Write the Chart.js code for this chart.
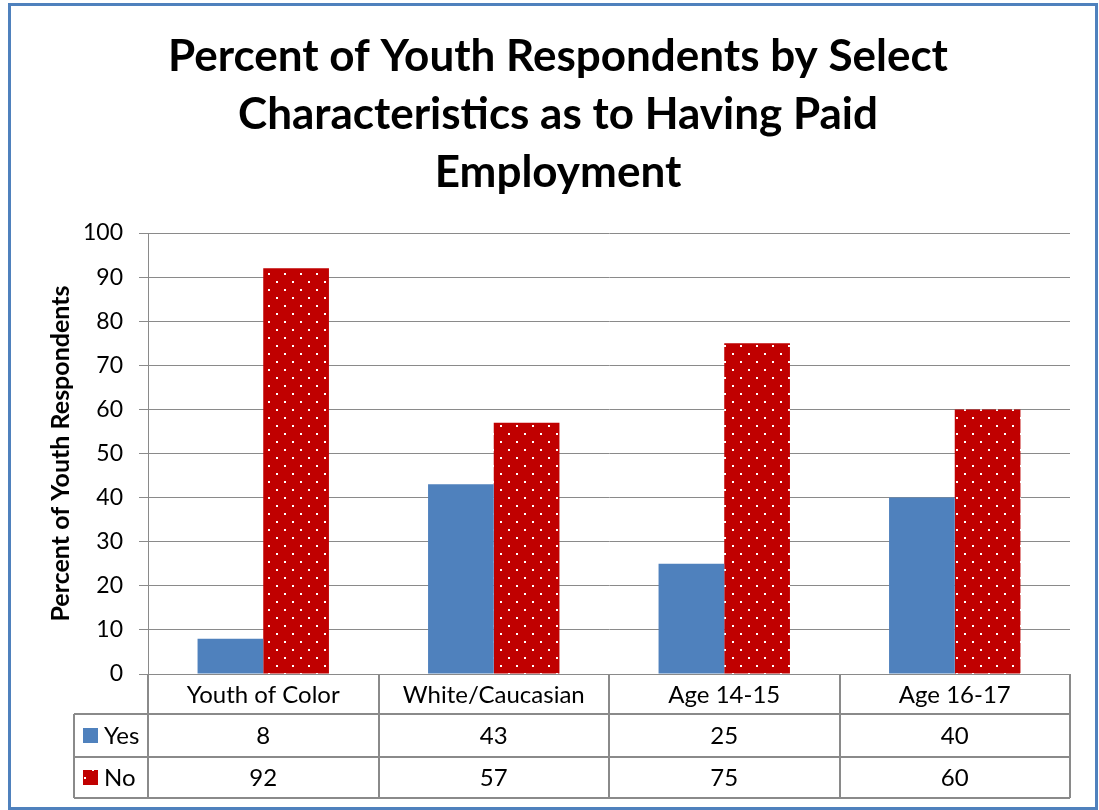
<!DOCTYPE html>
<html>
<head>
<meta charset="utf-8">
<script src="https://cdn.jsdelivr.net/npm/chart.js@4"></script>
<style>
  html, body { margin: 0; padding: 0; background: #fff; }
  #wrap { width: 1099px; height: 810px; }
</style>
</head>
<body>
<div id="wrap"><canvas id="chart" width="1099" height="810"></canvas></div>
<script>
// chart values
const categories = ['Youth of Color', 'White/Caucasian', 'Age 14-15', 'Age 16-17'];
const seriesNames = ['Yes', 'No'];
const yesValues = [8, 43, 25, 40];
const noValues = [92, 57, 75, 60];
const yTicks = [0, 10, 20, 30, 40, 50, 60, 70, 80, 90, 100];

const blue = '#4F81BD';
const red = '#C00000';
const gridGray = '#8a8a8a';
const fontFamily = 'Lato, "Open Sans", sans-serif';

// red fill with small white dots (like the office "dotted" pattern)
function dotPattern() {
    const tile = document.createElement('canvas');
    tile.width = 16;
    tile.height = 16;
    const t = tile.getContext('2d');
    t.fillStyle = red;
    t.fillRect(0, 0, 16, 16);
    t.fillStyle = '#ffffff';
    t.fillRect(12, 1, 2, 2);
    t.fillRect(4, 9, 2, 2);
    return t.createPattern(tile, 'repeat');
}

const ctx = document.getElementById('chart').getContext('2d');
const redDots = dotPattern();

// background + outer blue frame
const framePlugin = {
    id: 'frame',
    beforeDraw(chart) {
        const c = chart.ctx;
        c.save();
        c.fillStyle = '#fff';
        c.fillRect(0, 0, chart.width, chart.height);
        c.strokeStyle = '#4F81BD';
        c.lineWidth = 3;
        c.strokeRect(9.5, 4.5, 1087, 804);
        c.restore();
    }
};

// data table under the plot
const tablePlugin = {
    id: 'dataTable',
    afterDraw(chart) {
        const c = chart.ctx;
        const x = chart.scales.x;
        const area = chart.chartArea;
        const n = categories.length;
        const step = (area.right - area.left) / n;
        const rowTop = area.bottom;
        const rows = [rowTop, rowTop + 40, rowTop + 83, rowTop + 124];
        const legendLeft = 74;

        c.save();
        c.strokeStyle = gridGray;
        c.lineWidth = 2;
        c.beginPath();
        // vertical lines at category edges
        for (let i = 0; i <= n; i++) {
            const px = Math.round(area.left + step * i);
            c.moveTo(px, rows[0]);
            c.lineTo(px, rows[3]);
        }
        // horizontal lines
        c.moveTo(legendLeft, rows[1]); c.lineTo(area.right, rows[1]);
        c.moveTo(legendLeft, rows[2]); c.lineTo(area.right, rows[2]);
        c.moveTo(legendLeft, rows[3]); c.lineTo(area.right, rows[3]);
        c.moveTo(legendLeft, rows[1]); c.lineTo(legendLeft, rows[3]);
        c.stroke();

        c.fillStyle = '#000';
        c.font = '24px ' + fontFamily;
        c.textAlign = 'center';
        c.textBaseline = 'middle';
        categories.forEach((cat, i) => {
            const cx = x.getPixelForValue(i);
            c.fillText(cat, cx, (rows[0] + rows[1]) / 2 + 1);
            c.fillText(String(chart.data.datasets[0].data[i]), cx, (rows[1] + rows[2]) / 2 + 1);
            c.fillText(String(chart.data.datasets[1].data[i]), cx, (rows[2] + rows[3]) / 2 + 1);
        });

        // legend keys in first column
        c.textAlign = 'left';
        const keys = [blue, redDots];
        seriesNames.forEach((name, r) => {
            const mid = (rows[r + 1] + rows[r + 2]) / 2;
            c.fillStyle = keys[r];
            c.fillRect(83, Math.round(mid - 8), 15, 15);
            c.fillStyle = '#000';
            c.fillText(name, 104, mid + 1);
        });
        c.restore();
    }
};

new Chart(ctx, {
    type: 'bar',
    data: {
        labels: categories,
        datasets: [
            { label: seriesNames[0], data: yesValues, backgroundColor: blue },
            { label: seriesNames[1], data: noValues, backgroundColor: redDots }
        ]
    },
    options: {
        responsive: false,
        animation: false,
        layout: { padding: { left: 46, right: 29, bottom: 136, top: 0 } },
        datasets: {
            bar: { categoryPercentage: 0.57, barPercentage: 1.0 }
        },
        plugins: {
            legend: { display: false },
            tooltip: { enabled: false },
            title: {
                display: true,
                text: ['Percent of Youth Respondents by Select', 'Characteristics as to Having Paid', 'Employment'],
                color: '#000',
                font: { family: fontFamily, size: 44, weight: 'bold', lineHeight: 58 / 44 },
                padding: { top: 28, bottom: 31 }
            }
        },
        scales: {
            x: {
                display: false
            },
            y: {
                min: 0,
                max: 100,
                afterBuildTicks(scale) {
                    scale.ticks = yTicks.map(v => ({ value: v }));
                },
                afterFit(scale) {
                    scale.width = 102;
                },
                border: { display: true, color: gridGray, width: 1 },
                grid: { color: gridGray, lineWidth: 1, tickLength: 9 },
                ticks: {
                    color: '#000',
                    padding: 16,
                    font: { family: fontFamily, size: 23 }
                },
                title: {
                    display: true,
                    text: 'Percent of Youth Respondents',
                    color: '#000',
                    font: { family: fontFamily, size: 25, weight: 'bold' },
                    padding: { top: 0, bottom: 0 }
                }
            }
        }
    },
    plugins: [framePlugin, tablePlugin]
});
</script>
</body>
</html>
